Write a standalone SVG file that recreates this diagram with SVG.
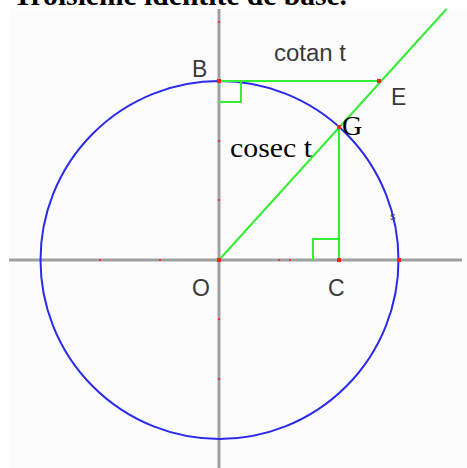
<svg xmlns="http://www.w3.org/2000/svg" width="467" height="468" viewBox="0 0 467 468">
<defs>
<style>
.ax{stroke:#a0a0a0;stroke-width:3;fill:none}
.gr{stroke:#33ee33;stroke-width:2;fill:none}
.ci{stroke:#2a2aee;stroke-width:2;fill:none}
.pt{fill:#ff2020}
.tk{fill:#ff3030}
.lbl{font-family:"Liberation Sans",Arial,sans-serif;font-size:23px;fill:#3a3a3a}
.ser{font-family:"Liberation Serif","Times New Roman",serif;font-size:28px;fill:#000}
</style>
</defs>
<rect x="0" y="0" width="467" height="468" fill="#ffffff"/>
<rect x="9" y="9" width="458" height="459" fill="#fcfcfc"/>
<text x="13" y="4.5" font-family="'Liberation Serif','Times New Roman',serif" font-weight="bold" font-size="29" textLength="334" lengthAdjust="spacingAndGlyphs">Troisième identité de base.</text>
<g id="axes">
<line class="ax" x1="9" y1="260" x2="462" y2="260"/>
<line class="ax" x1="219" y1="9" x2="219" y2="468"/>
</g>
<g id="circle">
<circle class="ci" cx="219.5" cy="260" r="179"/>
</g>
<g id="connectors">
<line class="gr" x1="219" y1="260" x2="446.5" y2="9"/>
<line class="gr" x1="219" y1="81" x2="379" y2="81"/>
<line class="gr" x1="339" y1="127" x2="339" y2="260"/>
<polyline class="gr" points="241,81 241,102 219,102"/>
<polyline class="gr" points="339,239 313,239 313,260"/>
</g>
<g id="ticks">
<rect class="tk" x="218" y="21" width="2" height="2"/>
<rect class="tk" x="218" y="140" width="2" height="2"/>
<rect class="tk" x="218" y="199" width="2" height="2"/>
<rect class="tk" x="218" y="318" width="2" height="2"/>
<rect class="tk" x="218" y="378" width="2" height="2"/>
<rect class="tk" x="99" y="259" width="2" height="2"/>
<rect class="tk" x="159" y="259" width="2" height="2"/>
<rect class="tk" x="278" y="259" width="2" height="2"/>
<rect class="tk" x="289" y="259" width="2" height="2"/>
</g>
<g id="O"><rect class="pt" x="217" y="258" width="4" height="4"/><text class="lbl" x="192" y="296">O</text></g>
<g id="B"><rect class="pt" x="217" y="79" width="4" height="4"/><text class="lbl" x="192" y="77">B</text></g>
<g id="E"><rect class="pt" x="377" y="79" width="4" height="4"/><text class="lbl" x="391" y="105">E</text></g>
<g id="G"><rect class="pt" x="337" y="125" width="4" height="4"/><text class="ser" x="342" y="135">G</text></g>
<g id="C"><rect class="pt" x="337" y="258" width="4" height="4"/><text class="lbl" x="328" y="296">C</text></g>
<g id="D"><rect class="pt" x="397" y="258" width="4" height="4"/></g>
<g id="labels">
<text class="lbl" x="274" y="61" textLength="72" lengthAdjust="spacingAndGlyphs">cotan t</text>
<text class="ser" x="230" y="157" textLength="82" lengthAdjust="spacingAndGlyphs">cosec t</text>
<text x="390" y="220" font-family="'Liberation Sans',Arial,sans-serif" font-size="11" fill="#444">s</text>
</g>
</svg>
